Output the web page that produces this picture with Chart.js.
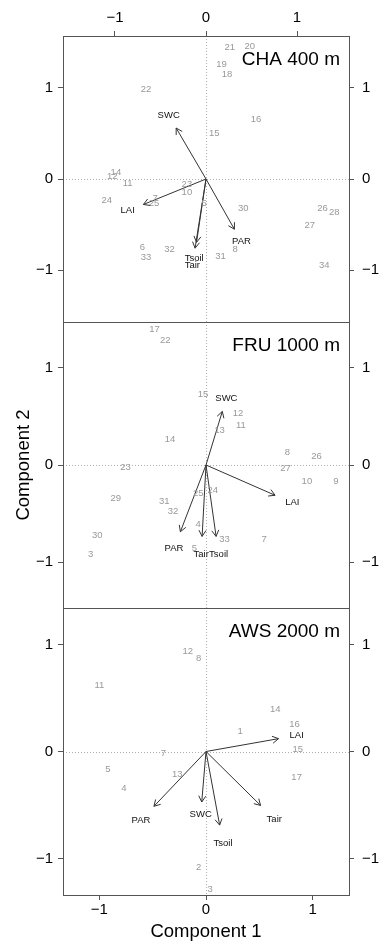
<!DOCTYPE html>
<html>
<head>
<meta charset="utf-8">
<script src="https://cdn.jsdelivr.net/npm/chart.js@4.4.1/dist/chart.umd.min.js"></script>
<style>
    body { margin: 0; background: #fff; }
    #quadro { position: relative; width: 380px; height: 943px; }
    canvas { position: absolute; left: 0; }
</style>
</head>
<body>
<div id="quadro">
    <canvas id="graficoCha" width="380" height="330" style="top:0px"></canvas>
    <canvas id="graficoFru" width="380" height="302" style="top:314px"></canvas>
    <canvas id="graficoAws" width="380" height="343" style="top:600px"></canvas>
</div>
<script>
// CHA 400 m
const chaIds = [5, 6, 7, 8, 10, 11, 12, 14, 15, 16, 18, 19, 20, 21, 22, 23, 24, 25, 26, 27, 28, 30, 31, 32, 33, 34];
const chaX = [-0.02, -0.70, -0.56, 0.32, -0.21, -0.86, -1.03, -0.99, 0.09, 0.55, 0.23, 0.17, 0.48, 0.26, -0.66, -0.21, -1.09, -0.57, 1.28, 1.14, 1.41, 0.41, 0.16, -0.40, -0.66, 1.30];
const chaY = [-0.27, -0.75, -0.21, -0.77, -0.15, -0.05, 0.03, 0.07, 0.50, 0.65, 1.15, 1.26, 1.46, 1.45, 0.99, -0.06, -0.23, -0.27, -0.32, -0.51, -0.37, -0.32, -0.85, -0.77, -0.86, -0.95];
const chaVars = ['SWC', 'LAI', 'PAR', 'Tsoil', 'Tair'];
const chaVarX = [-0.41, -0.86, 0.39, -0.13, -0.15];
const chaVarY = [0.70, -0.35, -0.69, -0.87, -0.95];

// FRU 1000 m
const fruIds = [3, 4, 5, 7, 8, 9, 10, 11, 12, 13, 14, 15, 17, 22, 23, 24, 25, 26, 27, 29, 30, 31, 32, 33];
const fruX = [-1.19, -0.08, -0.12, 0.60, 0.84, 1.34, 1.04, 0.36, 0.33, 0.14, -0.37, -0.03, -0.53, -0.42, -0.83, 0.07, -0.08, 1.14, 0.82, -0.93, -1.12, -0.43, -0.34, 0.19];
const fruY = [-0.92, -0.61, -0.86, -0.77, 0.13, -0.17, -0.17, 0.41, 0.53, 0.36, 0.26, 0.73, 1.40, 1.28, -0.02, -0.26, -0.29, 0.09, -0.03, -0.34, -0.73, -0.38, -0.48, -0.77];
const fruVars = ['SWC', 'LAI', 'PAR', 'Tair', 'Tsoil'];
const fruVarX = [0.21, 0.89, -0.33, -0.05, 0.13];
const fruVarY = [0.69, -0.39, -0.86, -0.92, -0.92];

// AWS 2000 m
const awsIds = [1, 2, 3, 4, 5, 7, 8, 11, 12, 13, 14, 15, 16, 17];
const awsX = [0.32, -0.07, 0.04, -0.77, -0.92, -0.40, -0.07, -1.00, -0.17, -0.27, 0.65, 0.86, 0.83, 0.85];
const awsY = [0.19, -1.08, -1.29, -0.34, -0.17, -0.02, 0.87, 0.62, 0.94, -0.21, 0.39, 0.02, 0.25, -0.24];
const awsVars = ['LAI', 'PAR', 'SWC', 'Tair', 'Tsoil'];
const awsVarX = [0.85, -0.61, -0.05, 0.64, 0.16];
const awsVarY = [0.15, -0.64, -0.59, -0.63, -0.86];

const marcas = [-1, 0, 1];
const fonte = "'Liberation Sans', Arial, Helvetica, sans-serif";

// rótulos ficam na ponta, a seta vai até 80% dela
const fatorSeta = 0.8;

const desenhoBiplot = {
    id: 'desenhoBiplot',
    beforeDatasetsDraw(chart) {
        const { ctx, chartArea: a, scales } = chart;
        const x0 = Math.round(scales.x.getPixelForValue(0)) + 0.5;
        const y0 = Math.round(scales.y.getPixelForValue(0)) + 0.5;
        ctx.save();
        ctx.strokeStyle = '#b0b0b0';
        ctx.lineWidth = 1;
        ctx.setLineDash([1, 2]);
        ctx.beginPath();
        ctx.moveTo(x0, a.top); ctx.lineTo(x0, a.bottom);
        ctx.moveTo(a.left, y0); ctx.lineTo(a.right, y0);
        ctx.stroke();
        ctx.setLineDash([]);
        ctx.strokeStyle = '#555';
        ctx.strokeRect(Math.round(a.left) + 0.5, Math.round(a.top) + 0.5,
            Math.round(a.right - a.left), Math.round(a.bottom - a.top));
        ctx.restore();
    },
    afterDatasetsDraw(chart, args, opts) {
        const { ctx, chartArea: a, scales } = chart;
        ctx.save();
        ctx.textAlign = 'center';
        ctx.textBaseline = 'middle';
        chart.data.datasets.forEach((ds, i) => {
            const pts = chart.getDatasetMeta(i).data;
            if (ds.papel === 'amostras') {
                ctx.fillStyle = '#999';
                ctx.font = '9.5px ' + fonte;
                pts.forEach((p, j) => ctx.fillText(String(ds.ids[j]), p.x, p.y));
            } else if (ds.papel === 'seta') {
                const p0 = pts[0], p1 = pts[1];
                const ang = Math.atan2(p1.y - p0.y, p1.x - p0.x);
                ctx.strokeStyle = '#333';
                ctx.lineWidth = 1;
                ctx.beginPath();
                ctx.moveTo(p1.x - 7 * Math.cos(ang - Math.PI / 6), p1.y - 7 * Math.sin(ang - Math.PI / 6));
                ctx.lineTo(p1.x, p1.y);
                ctx.lineTo(p1.x - 7 * Math.cos(ang + Math.PI / 6), p1.y - 7 * Math.sin(ang + Math.PI / 6));
                ctx.stroke();
                ctx.fillStyle = '#111';
                ctx.font = '9.5px ' + fonte;
                ctx.fillText(ds.label, scales.x.getPixelForValue(ds.ponta.x), scales.y.getPixelForValue(ds.ponta.y));
            }
        });
        ctx.fillStyle = '#000';
        ctx.font = '19px ' + fonte;
        ctx.textAlign = 'right';
        ctx.fillText(opts.titulo, a.right - 9, a.top + 24);
        ctx.restore();
    }
};

function sinal(v) {
    return v < 0 ? '\u2212' + Math.abs(v) : String(v);
}

// sem folga extra dos rótulos: a área do gráfico fica onde o padding manda
function zeraFolga(escala) {
    escala.paddingTop = 0;
    escala.paddingBottom = 0;
    escala.paddingLeft = 0;
    escala.paddingRight = 0;
}

function eixoY(limite, lado, titulo) {
    return {
        type: 'linear',
        position: lado,
        min: -limite,
        max: limite,
        afterBuildTicks: escala => { escala.ticks = marcas.map(v => ({ value: v })); },
        afterFit: escala => {
            escala.width = lado === 'left' ? 63 : 31;
            zeraFolga(escala);
        },
        grid: { drawOnChartArea: false, drawTicks: true, tickLength: 5, tickColor: '#555' },
        border: { display: false },
        ticks: { color: '#000', font: { family: fonte, size: 15 }, padding: lado === 'left' ? 5 : 8, callback: sinal },
        title: {
            display: !!titulo,
            text: titulo || '',
            color: '#000',
            font: { family: fonte, size: 18.5 },
            padding: { top: 13, bottom: 0 }
        }
    };
}

function eixoX(limite, lado) {
    return {
        type: 'linear',
        position: lado || 'bottom',
        display: !!lado,
        min: -limite,
        max: limite,
        afterBuildTicks: escala => { escala.ticks = marcas.map(v => ({ value: v })); },
        afterFit: escala => {
            escala.height = !lado ? 0 : (lado === 'top' ? 36 : 48);
            zeraFolga(escala);
        },
        grid: { drawOnChartArea: false, drawTicks: true, tickLength: 5, tickColor: '#555' },
        border: { display: false },
        ticks: { color: '#000', font: { family: fonte, size: 15 }, padding: lado === 'top' ? 4 : 1, maxRotation: 0, callback: sinal },
        title: {
            display: lado === 'bottom',
            text: 'Component 1',
            color: '#000',
            font: { family: fonte, size: 18.5 },
            padding: { top: 0, bottom: 0 }
        }
    };
}

function montaDados(ids, xs, ys, vars, vx, vy) {
    const datasets = [{
        papel: 'amostras',
        ids: ids,
        data: ids.map((id, i) => ({ x: xs[i], y: ys[i] })),
        pointRadius: 0
    }];
    vars.forEach((nome, i) => {
        datasets.push({
            papel: 'seta',
            label: nome,
            ponta: { x: vx[i], y: vy[i] },
            data: [{ x: 0, y: 0 }, { x: vx[i] * fatorSeta, y: vy[i] * fatorSeta }],
            showLine: true,
            borderColor: '#333',
            borderWidth: 1,
            pointRadius: 0
        });
    });
    return { datasets };
}

function criaPainel(id, dados, limite, titulo, ladoX, tituloY, padding) {
    return new Chart(document.getElementById(id), {
        type: 'scatter',
        data: dados,
        options: {
            responsive: false,
            animation: false,
            layout: { padding: padding },
            plugins: {
                legend: { display: false },
                tooltip: { enabled: false },
                desenhoBiplot: { titulo: titulo }
            },
            scales: {
                x: eixoX(limite, ladoX),
                y: eixoY(limite, 'left', tituloY),
                y2: eixoY(limite, 'right')
            }
        },
        plugins: [desenhoBiplot]
    });
}

criaPainel('graficoCha', montaDados(chaIds, chaX, chaY, chaVars, chaVarX, chaVarY),
    1.571, 'CHA 400 m', 'top', null, { top: 0, bottom: 8, left: 0, right: 0 });
criaPainel('graficoFru', montaDados(fruIds, fruX, fruY, fruVars, fruVarX, fruVarY),
    1.474, 'FRU 1000 m', null, 'Component 2', { top: 8, bottom: 8, left: 0, right: 0 });
criaPainel('graficoAws', montaDados(awsIds, awsX, awsY, awsVars, awsVarX, awsVarY),
    1.341, 'AWS 2000 m', 'bottom', null, { top: 8, bottom: 0, left: 0, right: 0 });
</script>
</body>
</html>
